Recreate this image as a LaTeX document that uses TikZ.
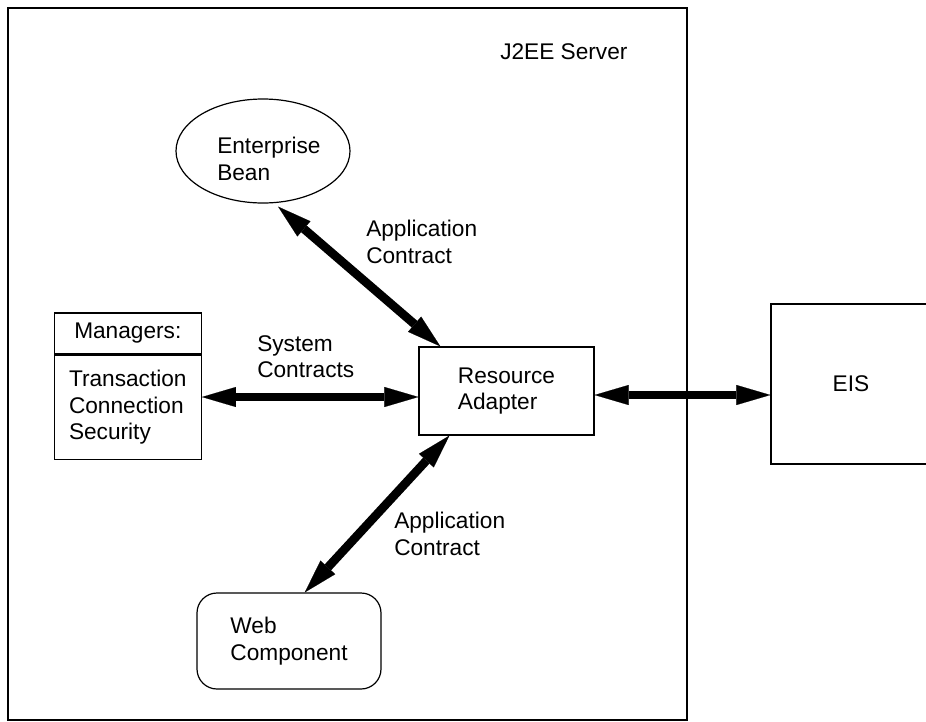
\documentclass[tikz,border=0pt]{standalone}
\usepackage{fontspec}
\setmainfont{Liberation Sans}
\usetikzlibrary{arrows.meta,shapes.geometric,positioning}

\begin{document}
\begin{tikzpicture}[x=0.75pt,y=-0.75pt,
font=\fontsize{17}{20}\selectfont,
boxnode/.style={rectangle, draw=black, line width=0.9pt, inner sep=0pt, align=left},
ovalnode/.style={ellipse, draw=black, line width=0.9pt, inner sep=0pt},
textnode/.style={inner sep=0pt, align=left, anchor=north west},
bigarrow/.style={line width=6.5pt, {Triangle[length=25.5pt,width=15pt,line width=0.1pt]}-{Triangle[length=25.5pt,width=15pt,line width=0.1pt]}},
]
\useasboundingbox (0,0) rectangle (926,722);
%Nodes
\node[boxnode, minimum width=509.25pt, minimum height=534pt] (server) at (347.5,364) {};
\node[textnode]      (servername) at (500,43)  {J2EE Server};
\node[ovalnode, minimum width=130.5pt, minimum height=78pt] (bean) at (263,151) {};
\node[textnode]      (beanname)   at (217,137) {Enterprise\\Bean};
\node[boxnode, minimum width=110.25pt, minimum height=30.75pt] (mgrhead) at (127.8,333.5) {Managers:};
\node[boxnode, minimum width=110.25pt, minimum height=78pt] (mgrbody) [below=0pt of mgrhead] {Transaction\\Connection\\Security};
\node[boxnode, minimum width=131.25pt, minimum height=66pt] (ra) at (506.5,391) {Resource\\Adapter};
\node[boxnode, minimum width=120pt, minimum height=120pt] (eis) at (851,384) {EIS};
\node[boxnode, rounded corners=15pt, minimum width=138pt, minimum height=72pt] (web) at (289,641) {Web\\Component};
\node[textnode]      (appupper)   at (366,220) {Application\\Contract};
\node[textnode]      (syslabel)   at (257,335) {System\\Contracts};
\node[textnode]      (applower)   at (394,512) {Application\\Contract};
\coordinate (sysline) at ([yshift=-4.5pt]ra.west);
\coordinate (eisline) at ([yshift=-3pt]ra.east);

%Lines
\draw[bigarrow, shorten <=4pt] (bean.-78) -- (ra.146);
\draw[bigarrow] (mgrbody.east |- sysline) -- (sysline);
\draw[bigarrow] (eisline) -- (eis.west |- eisline);
\draw[bigarrow] (ra.218) -- (web.72);
\end{tikzpicture}
\end{document}
